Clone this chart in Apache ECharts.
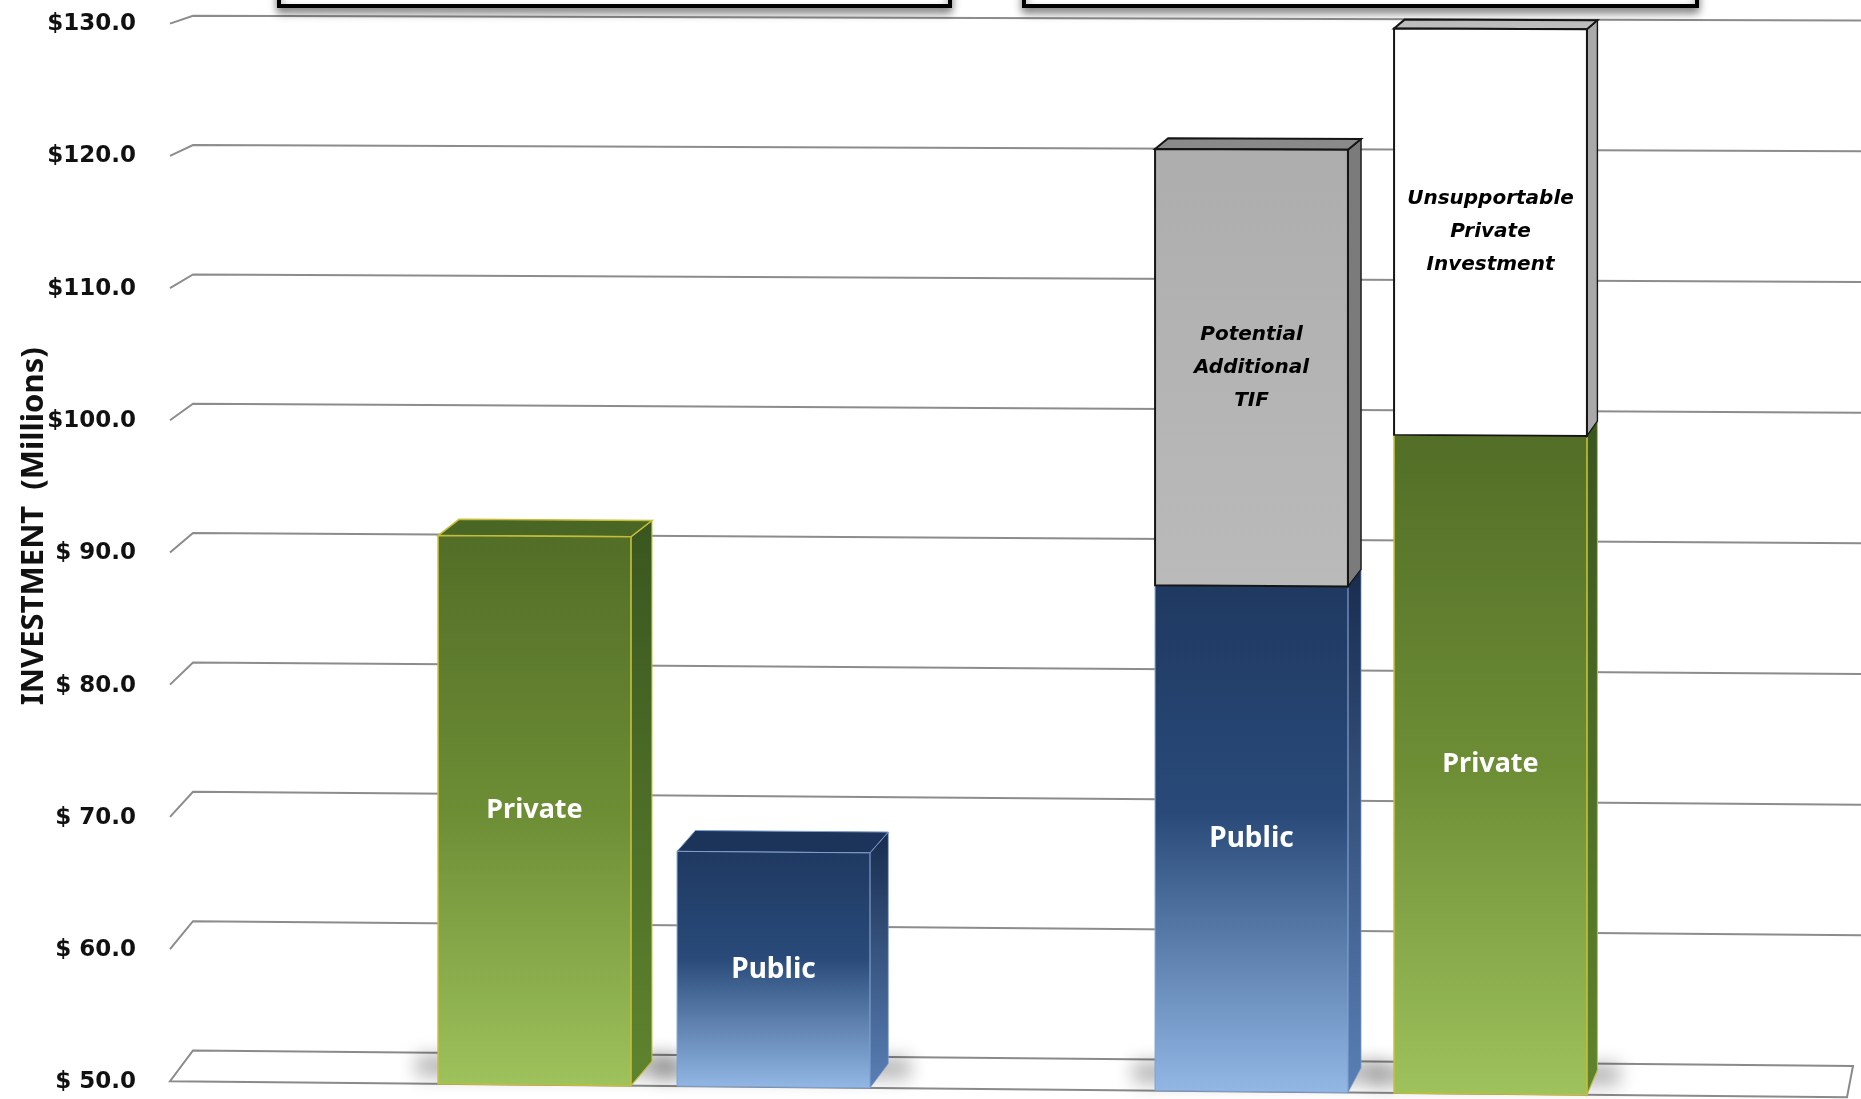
<!DOCTYPE html>
<html>
<head>
<meta charset="utf-8">
<script src="https://cdn.jsdelivr.net/npm/echarts@6/dist/echarts.min.js"></script>
<style>
html,body{margin:0;padding:0;background:#ffffff;}
#chart{width:1861px;height:1099px;}
</style>
</head>
<body>
<div id="chart"></div>
<script>
// ---------------- DATA ----------------
const categories = ['', 'Private', 'Public', '', 'Public', 'Private', ''];
const baseValues = [null, 91.4, 67.7, null, 88.0, 99.4, null];
const upperValues = [null, null, null, null, 32.8, 30.5, null];
const upperLabels = [null, null, null, null, 'Potential\nAdditional\nTIF', 'Unsupportable\nPrivate\nInvestment', null];
const yMin = 50, yMax = 130, yStep = 10;
const yTickLabels = ['$ 50.0', '$ 60.0', '$ 70.0', '$ 80.0', '$ 90.0', '$100.0', '$110.0', '$120.0', '$130.0'];
const yAxisTitle = 'INVESTMENT  (Millions)';

// ---------------- BUILD ----------------
const segments = [];
categories.forEach(function (name, i) {
  if (baseValues[i] == null) return;
  const hasUpper = upperValues[i] != null;
  segments.push({ cat: i, lo: yMin, hi: baseValues[i], name: name, isTop: !hasUpper, isBase: true });
  if (hasUpper) {
    segments.push({ cat: i, lo: baseValues[i], hi: baseValues[i] + upperValues[i], name: upperLabels[i], isTop: true, isBase: false });
  }
});
const tickValues = [];
for (let v = yMin; v <= yMax; v += yStep) tickValues.push(v);

const LG = echarts.graphic.LinearGradient;
function paletteFor(name) {
  const key = name.split('\n')[0];
  if (key === 'Private') return {
    front: new LG(0, 0, 0, 1, [{offset: 0, color: '#526e27'}, {offset: 0.5, color: '#6d8d35'}, {offset: 1, color: '#9ec25c'}]),
    side: new LG(0, 0, 0, 1, [{offset: 0, color: '#3a5620'}, {offset: 1, color: '#5f842e'}]),
    top: '#4a6625', stroke: '#c4bd3a', lw: 1.5,
    font: 'bold 27px "Noto Sans"', color: '#ffffff', lh: 32
  };
  if (key === 'Public') return {
    front: new LG(0, 0, 0, 1, [{offset: 0, color: '#1f3961'}, {offset: 0.45, color: '#294a79'}, {offset: 1, color: '#93b8e6'}]),
    side: new LG(0, 0, 0, 1, [{offset: 0, color: '#182c4e'}, {offset: 1, color: '#5a80b6'}]),
    top: '#1c3459', stroke: '#7e9fd0', lw: 1,
    font: 'bold 28px "Noto Sans"', color: '#ffffff', lh: 32
  };
  if (key === 'Potential') return {
    front: new LG(0, 0, 0, 1, [{offset: 0, color: '#adadad'}, {offset: 1, color: '#bababa'}]),
    side: '#7b7b7b', top: '#8a8a8a', stroke: '#151515', lw: 2,
    font: 'italic bold 20px "DejaVu Sans"', color: '#000000', lh: 33
  };
  return {
    front: '#ffffff', side: '#a9a9a9', top: '#bdbdbd', stroke: '#151515', lw: 2,
    font: 'italic bold 20px "DejaVu Sans"', color: '#000000', lh: 33
  };
}

function geom(params) {
  const cs = params.coordSys;
  const T = cs.y, B = cs.y + cs.height;
  const sk = function (x, y) { return y + (x - 300) * (0.003 + 0.0065 * (y - T) / (B - T)); };
  return { cs: cs, T: T, B: B, P: function (x, y) { return [x, sk(x, y)]; } };
}

function renderGrid(params, api) {
  const g = geom(params);
  const v = api.value(1);
  const y = api.coord([0, v])[1];
  const xF = g.cs.x - 6, dxw = 23;
  const dyw = 8 + 23 * (y - g.T) / (g.B - g.T);
  const W = api.getWidth();
  if (v === yMin) {
    return {
      type: 'polygon',
      shape: { points: [g.P(xF, y), g.P(xF + dxw, y - dyw), g.P(W - 8, y - dyw), g.P(W - 14, y)] },
      style: { fill: '#ffffff', stroke: '#8a8a8a', lineWidth: 2 }
    };
  }
  return {
    type: 'polyline',
    shape: { points: [g.P(xF, y), g.P(xF + dxw, y - dyw), g.P(W + 5, y - dyw)] },
    style: { fill: 'none', stroke: '#8c8c8c', lineWidth: 2 }
  };
}

function barBox(params, api, seg) {
  const g = geom(params);
  const cx = api.coord([seg.cat, seg.lo])[0];
  const yL = api.coord([seg.cat, seg.lo])[1];
  const yH = api.coord([seg.cat, seg.hi])[1];
  const bw = api.size([1, 0])[0] * 0.807;
  const xl = cx - bw / 2, xr = cx + bw / 2;
  const dx = Math.max(8, 21 - (cx - g.cs.x - 358) * 0.011);
  const dyb = function (y) { return 9 + (y - 28) * 0.01456; };
  return { g: g, cx: cx, yL: yL, yH: yH, xl: xl, xr: xr, dx: dx, dyb: dyb, bw: bw };
}

function renderShadow(params, api) {
  const seg = segments[api.value(2)];
  if (!seg.isBase) return null;
  const b = barBox(params, api, seg);
  const OFF = 4000;
  const yb = b.g.P(b.cx, b.yL)[1];
  return {
    type: 'rect',
    shape: { x: b.xl - 22 - OFF, y: yb - 30, width: b.bw + b.dx + 44, height: 22 },
    style: { fill: '#000', shadowColor: 'rgba(0,0,0,0.28)', shadowBlur: 18, shadowOffsetX: OFF, shadowOffsetY: 0 }
  };
}

function renderBar(params, api) {
  const seg = segments[api.value(2)];
  const b = barBox(params, api, seg);
  const P = b.g.P;
  const pal = paletteFor(seg.name);
  const xl = b.xl, xr = b.xr, yH = b.yH, yL = b.yL, dx = b.dx, dyb = b.dyb;
  const children = [];
  children.push({
    type: 'polygon',
    shape: { points: [P(xr, yH), P(xr + dx, yH - dyb(yH)), P(xr + dx, yL - dyb(yL)), P(xr, yL)] },
    style: { fill: pal.side, stroke: pal.stroke, lineWidth: pal.lw * 0.7 }
  });
  if (seg.isTop) {
    children.push({
      type: 'polygon',
      shape: { points: [P(xl, yH), P(xl + dx, yH - dyb(yH)), P(xr + dx, yH - dyb(yH)), P(xr, yH)] },
      style: { fill: pal.top, stroke: pal.stroke, lineWidth: pal.lw }
    });
  }
  children.push({
    type: 'polygon',
    shape: { points: [P(xl, yH), P(xr, yH), P(xr, yL), P(xl, yL)] },
    style: { fill: pal.front, stroke: pal.stroke, lineWidth: pal.lw }
  });
  const lp = P(b.cx, (yH + yL) / 2);
  children.push({
    type: 'text',
    x: lp[0], y: lp[1],
    style: { text: seg.name, font: pal.font, fill: pal.color, align: 'center', verticalAlign: 'middle', lineHeight: pal.lh }
  });
  return { type: 'group', children: children };
}

// ---------------- CHART ----------------
const chart = echarts.init(document.getElementById('chart'), null, { renderer: 'canvas' });
chart.setOption({
  animation: false,
  backgroundColor: '#ffffff',
  grid: { left: 176, right: 12, top: 24, bottom: 16.5, containLabel: false },
  xAxis: {
    type: 'category', data: categories,
    axisLine: { show: false }, axisTick: { show: false }, axisLabel: { show: false }, splitLine: { show: false }
  },
  yAxis: {
    type: 'value', min: yMin, max: yMax, interval: yStep,
    axisLine: { show: false }, axisTick: { show: false }, splitLine: { show: false },
    axisLabel: {
      margin: 40, color: '#111111', fontFamily: 'DejaVu Sans', fontWeight: 'bold', fontSize: 23,
      formatter: function (v) { return yTickLabels[Math.round((v - yMin) / yStep)]; }
    },
    name: yAxisTitle, nameLocation: 'middle', nameRotate: 90, nameGap: 126, nameMoveOverlap: false,
    nameTextStyle: { fontFamily: 'Noto Sans', fontWeight: 'bold', fontSize: 31, color: '#111111', padding: [0, 0, 0, 54] }
  },
  graphic: [
    { type: 'rect', z: 100, shape: { x: 279, y: -40, width: 671, height: 46 },
      style: { fill: '#ffffff', stroke: '#000000', lineWidth: 4, shadowBlur: 8, shadowOffsetY: 5, shadowColor: 'rgba(0,0,0,0.45)' } },
    { type: 'rect', z: 100, shape: { x: 1024, y: -40, width: 673, height: 46 },
      style: { fill: '#ffffff', stroke: '#000000', lineWidth: 4, shadowBlur: 8, shadowOffsetY: 5, shadowColor: 'rgba(0,0,0,0.45)' } }
  ],
  series: [
    { type: 'custom', name: 'grid', z: 1, clip: false, silent: true,
      data: tickValues.map(function (v) { return [0, v]; }), renderItem: renderGrid },
    { type: 'custom', name: 'shadow', z: 2, clip: false, silent: true,
      data: segments.map(function (s, k) { return [s.cat, s.hi, k]; }), renderItem: renderShadow },
    { type: 'custom', name: 'bars', z: 3, clip: false,
      data: segments.map(function (s, k) { return [s.cat, s.hi, k]; }), renderItem: renderBar }
  ]
});
</script>
</body>
</html>
